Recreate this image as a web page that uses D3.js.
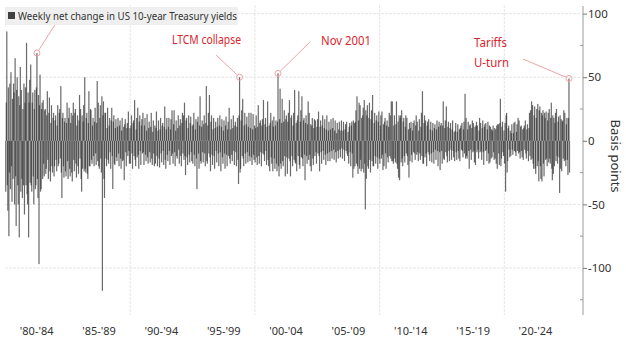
<!DOCTYPE html>
<html><head><meta charset="utf-8">
<script src="https://cdn.jsdelivr.net/npm/d3@7"></script>
<style>html,body{margin:0;padding:0;background:#fff;} svg{display:block;font-family:"Noto Sans","Open Sans",sans-serif;}</style>
</head><body><svg id="c" width="626" height="345"></svg>
<script>
const startYear = 1980;
// early-month week
const earlyMonthChange = [
/*1980*/ -40, 86, -55, -75, 45, 54, -48, -30, 38, 65, -67, 50,
/*1981*/ -50, -76, 58, 40, -45, -35, -58, 42, 77, -50, -76, 48,
/*1982*/ 60, -40, 38, -50, 40, -35, 69, -45, -97, 52, -38, 30,
/*1983*/ 32, -28, 25, -22, 39, -30, 34, -32, 28, -25, 22, -20,
/*1984*/ 20, -24, 28, -18, 25, 43, -45, 22, -29, 18, -28, 30,
/*1985*/ -30, 26, -28, 22, -32, 30, -24, 25, -29, 20, -26, 36,
/*1986*/ 25, -40, -22, 28, 50, -25, 22, -30, 39, -20, 24, -18,
/*1987*/ 18, -20, 26, -19, 47, 30, -22, 28, -25, -118, 31, -45,
/*1988*/ 22, -20, 26, -18, 18, -22, 26, -38, 20, -19, 17, -16,
/*1989*/ 18, -20, 16, -22, 18, -15, -31, 17, -20, 14, 23, -18,
/*1990*/ -18, 20, -22, 16, 32, -20, 18, 26, -22, 20, -19, 17,
/*1991*/ 22, -19, 18, -16, 21, -18, 15, -17, 22, -19, 16, -20,
/*1992*/ -18, 23, -20, 16, -21, 18, -17, 14, -19, 27, -22, 18,
/*1993*/ -16, 18, -19, 17, 24, -18, 24, -20, 16, -14, 20, -18,
/*1994*/ 17, -20, 22, 20, 30, -27, 18, -19, 20, -17, 19, -16,
/*1995*/ -18, 22, -20, 17, -38, 19, -22, 35, -18, 16, -17, 20,
/*1996*/ -20, 43, -18, 22, 36, -24, 20, -19, 18, -22, 15, -17,
/*1997*/ 18, -20, 20, -24, 17, -18, 16, -22, 19, -20, 15, 26,
/*1998*/ -18, 17, -16, 20, -19, 15, -20, 18, -34, 50, -22, 24,
/*1999*/ 33, -20, 22, -18, 19, -17, 22, -16, 22, -19, 21, -15,
/*2000*/ -17, 20, -19, 28, -18, 16, -20, 17, 32, -16, 18, -19,
/*2001*/ 31, -20, -24, 22, -18, -24, 19, -22, 16, -24, 53, -28,
/*2002*/ 41, -22, 33, -20, 24, -28, 20, -26, 22, 32, -28, 20,
/*2003*/ -20, 22, 40, -18, -24, 20, 39, -22, 24, 35, -20, 18,
/*2004*/ -31, 20, -18, 31, 22, -20, -24, 18, -19, 17, 16, -18,
/*2005*/ 17, 23, -24, 16, -18, 20, -15, 17, -19, 20, -16, 15,
/*2006*/ -16, 17, -14, 18, -15, 16, -17, 14, -14, 15, -13, 16,
/*2007*/ -14, 15, -16, 13, 15, -12, -18, 14, -20, 15, -29, -22,
/*2008*/ -20, 24, 35, -26, 30, 28, -24, -22, 26, 32, -54, -30,
/*2009*/ 28, -22, 30, -25, 24, 36, -20, 22, -18, 20, -22, 23,
/*2010*/ -18, 20, 23, -23, -20, 18, -22, 16, -17, 22, 20, 31,
/*2011*/ 31, -18, 20, -17, 31, -22, -29, -31, 20, 24, -20, 18,
/*2012*/ -17, 20, 18, -19, -29, -16, 15, -17, 14, 16, -15, 20,
/*2013*/ 15, -16, 17, -15, 22, 39, -18, 20, 16, -20, 15, 17,
/*2014*/ -16, 15, -17, 14, -18, 13, -15, 16, -20, 15, -23, 14,
/*2015*/ -18, 31, -15, 16, 27, -17, 15, -16, 14, -15, 16, -13,
/*2016*/ -16, 14, -15, 13, -14, -16, 12, 14, -13, 15, 37, 18,
/*2017*/ -14, 15, -22, 13, -15, 16, 14, -17, -19, 15, 12, -14,
/*2018*/ 18, 14, -15, 16, -19, 13, 14, -16, 15, -18, -17, -14,
/*2019*/ -13, 12, -15, -14, -18, -22, 13, -19, 33, -14, 15, -12,
/*2020*/ -18, -40, 22, -16, 12, -13, -12, 13, -11, 14, 15, -12,
/*2021*/ 13, 18, 16, -14, 12, -13, -15, 12, 16, -14, 13, -16,
/*2022*/ 22, 24, 31, 28, -22, 27, -26, 25, 29, -32, 27, -30,
/*2023*/ -32, 24, -28, 18, 23, -20, 22, 25, -18, 30, -31, -26,
/*2024*/ -20, 22, 25, -18, 19, -41, -22, -24, 16, 24, 22, -20,
/*2025*/ 18, -27, 49
];
// mid-month week
const midMonthChange = [
/*1980*/ 30, -35, 42, -25, -38, -20, 33, 45, -50, -28, 40, -35,
/*1981*/ 35, 28, -40, -30, 25, 45, 30, -35, -42, 38, 30, -33,
/*1982*/ -35, 30, -28, 25, -38, 42, -30, 36, 28, -40, 25, -30,
/*1983*/ -18, 24, -26, 20, -15, 22, -24, 14, -20, 18, -28, 16,
/*1984*/ -15, 12, -20, 22, -14, -25, 18, -20, 15, -24, 14, -16,
/*1985*/ 18, -22, 14, -25, 20, -15, 22, -18, 12, -20, 16, -14,
/*1986*/ -30, 20, 15, -24, -22, 18, -26, 14, -20, 25, -15, 12,
/*1987*/ -12, 15, -10, 14, -16, -20, 18, -14, 35, 20, -30, 22,
/*1988*/ -14, 10, -15, 12, -9, 16, -12, 15, -18, 10, -13, 11,
/*1989*/ -10, 12, -14, 8, -16, 11, 13, -9, 10, -12, -8, 10,
/*1990*/ 12, -10, 14, -12, -15, 9, -13, -11, 15, -8, 12, -10,
/*1991*/ -9, 12, -11, 8, -13, 10, -9, 11, -14, 7, -10, 12,
/*1992*/ 10, -12, 8, -14, 9, -10, 12, -8, 11, -15, 9, -11,
/*1993*/ 11, -8, 9, -12, -10, 13, -9, 8, -12, 10, -7, 12,
/*1994*/ -12, 14, -10, -15, -12, 16, -13, 10, -11, 14, -9, 12,
/*1995*/ 13, -11, 9, -14, 15, -10, 12, -16, 11, -9, 13, -10,
/*1996*/ 14, -16, 12, -10, -13, 15, -11, 9, -12, 10, -8, 11,
/*1997*/ -10, 12, -9, 11, -13, 8, -10, 12, -11, 9, -12, -14,
/*1998*/ 9, -11, 10, -8, 12, -9, 11, -15, 20, -25, 16, -12,
/*1999*/ -14, 12, -10, 13, -9, 11, -12, 10, -13, 9, -11, 12,
/*2000*/ 10, -13, 11, -12, 14, -9, 12, -10, -11, 13, -8, 11,
/*2001*/ -15, 12, 14, -13, 16, 11, -14, 12, -18, 15, -20, 17,
/*2002*/ -18, 14, -16, 15, -12, 17, -13, 15, -14, -16, 18, -12,
/*2003*/ 12, -15, -17, 14, 16, -12, -19, 15, -13, -14, 16, -11,
/*2004*/ 14, -12, 13, -15, -11, 13, 12, -14, 10, -12, -9, 11,
/*2005*/ -10, -12, 11, -9, 12, -8, 10, -11, 9, -10, 8, -9,
/*2006*/ 9, -8, 10, -7, 8, -9, 6, -8, 9, -7, 8, -6,
/*2007*/ 8, -7, 9, -8, -10, 7, 11, -9, 12, -10, 16, 14,
/*2008*/ 15, -18, -20, 16, -22, -15, 18, 20, -25, -18, 24, 20,
/*2009*/ -20, 18, -15, 17, -16, -20, 14, -12, 16, -13, 15, -14,
/*2010*/ 12, -14, -11, 13, 15, -10, 12, -13, 11, -12, -14, -16,
/*2011*/ -16, 12, -14, 13, -18, 15, 20, 18, -17, -14, 15, -12,
/*2012*/ 11, -10, -12, 9, 14, 10, -11, 8, -9, -10, 12, -11,
/*2013*/ -9, 8, -10, 11, -12, -18, 14, -13, -10, 12, -9, -11,
/*2014*/ 9, -10, 8, -9, 10, -7, 9, -8, 11, -9, 12, -8,
/*2015*/ 12, -14, 10, -9, -12, 11, -8, 10, -7, 9, -8, 7,
/*2016*/ 8, -9, 7, -8, 9, 10, -7, -8, 9, -10, -14, -12,
/*2017*/ 9, -8, 12, -7, 10, -9, -8, 11, 12, -9, -7, 8,
/*2018*/ -9, -8, 10, -9, 11, -8, -7, 9, -10, 12, 11, 9,
/*2019*/ 8, -9, 10, 9, 12, 13, -10, 14, -20, 11, -9, 8,
/*2020*/ 14, 20, -25, 10, -7, 8, 6, -7, 6, -8, -9, 7,
/*2021*/ -8, -10, -9, 11, -8, 9, 10, -7, -10, 9, -8, 10,
/*2022*/ -12, -15, -14, -18, 20, -22, 18, -20, -16, 24, -20, 22,
/*2023*/ 20, -18, 22, -15, -14, 16, -17, -14, 18, -22, 20, 18,
/*2024*/ 14, -16, -12, 15, -13, 20, 17, 15, -14, -16, -15, 13,
/*2025*/ -15, 18, -25
];
const yTicks = [100, 50, 0, -50, -100];
const yMinorTicks = [75, 25, -25, -75, -125];
const periodLabels = ["'80-'84", "'85-'89", "'90-'94", "'95-'99", "'00-'04", "'05-'09", "'10-'14", "'15-'19", "'20-'24"];
const periodStarts = [1980, 1985, 1990, 1995, 2000, 2005, 2010, 2015, 2020];
const gridYears = [1990, 2000, 2010, 2020];
const annotationLabels = [["LTCM collapse"], ["Nov 2001"], ["Tariffs", "U-turn"], [""]];
const annotationIndex = [225, 262, 542, 30];
const legendLabel = "Weekly net change in US 10-year Treasury yields";
const axisTitle = "Basis points";

const svg = d3.select("#c");
const x = d3.scaleLinear().domain([1980, 2026]).range([5.5, 579.1]);
const y = d3.scaleLinear().domain([-137, 106]).range([315, 6]);
const tEarly = i => startYear + (i + 0.25) / 12;
const tMid = i => startYear + (i + 0.75) / 12;

const bars = [];
earlyMonthChange.forEach((v, i) => bars.push({ t: tEarly(i), v }));
midMonthChange.forEach((v, i) => bars.push({ t: tMid(i), v }));

// gridlines
svg.append("g").selectAll("line").data(yTicks.filter(d => d !== 0)).join("line")
  .attr("x1", 5).attr("x2", 580).attr("y1", d => y(d)).attr("y2", d => y(d))
  .attr("stroke", "#e6e6e6").attr("stroke-dasharray", "3,1");
svg.append("g").selectAll("line").data(gridYears).join("line")
  .attr("x1", d => x(d)).attr("x2", d => x(d)).attr("y1", 5).attr("y2", 315)
  .attr("stroke", "#e6e6e6").attr("stroke-dasharray", "3,1");

// bars
svg.append("g").selectAll("rect").data(bars).join("rect")
  .attr("x", d => x(d.t) - 0.6)
  .attr("width", 1.2)
  .attr("y", d => Math.min(y(d.v), y(0)))
  .attr("height", d => Math.abs(y(d.v) - y(0)))
  .attr("fill", "#303030").attr("fill-opacity", 0.72);

// right axis
const ax = svg.append("g").attr("transform", "translate(583,0)")
  .call(d3.axisRight(y).tickValues(yTicks).tickSize(4).tickSizeOuter(0).tickPadding(1).tickFormat(d => d));
ax.select(".domain").attr("stroke", "#9a9a9a").attr("d", `M0,${y(106)}V${y(-137)}`);
ax.selectAll(".tick line").attr("stroke", "#777");
ax.selectAll(".tick text").attr("font-size", 11.5).attr("fill", "#333").attr("font-family", "Noto Sans, sans-serif");
svg.append("g").selectAll("line").data(yMinorTicks).join("line")
  .attr("x1", 580).attr("x2", 583).attr("y1", d => y(d)).attr("y2", d => y(d)).attr("stroke", "#999");
svg.append("text").attr("transform", `translate(611,${y(-12)}) rotate(90)`)
  .attr("text-anchor", "middle").attr("font-size", 13).attr("fill", "#333").text(axisTitle);

// x labels
svg.append("g").selectAll("text").data(periodLabels).join("text")
  .attr("x", (d, i) => x(periodStarts[i] + 2.5)).attr("y", 335)
  .attr("text-anchor", "middle").attr("font-size", 11).attr("fill", "#333").text(d => d);

// annotations
const pink = "#f2a3a8", red = "#d9262e";
const lineStarts = [[216, 55], [310, 42], [523, 59], [58, 20]];
annotationIndex.forEach((idx, k) => {
  const cx = x(tEarly(idx)), cy = y(earlyMonthChange[idx]);
  const [sx, sy] = lineStarts[k];
  const dx = cx - sx, dy = cy - sy, L = Math.hypot(dx, dy);
  svg.append("line").attr("x1", sx).attr("y1", sy)
    .attr("x2", cx - dx / L * 3).attr("y2", cy - dy / L * 3)
    .attr("stroke", pink).attr("stroke-width", 1);
  svg.append("circle").attr("cx", cx).attr("cy", cy).attr("r", 3)
    .attr("fill", "none").attr("stroke", pink).attr("stroke-width", 1);
});
const textPos = [[172, 44], [321, 45], [474, 47]];
const lineLens = [[69], [50], [33, 35]];
textPos.forEach(([tx, ty], k) => {
  annotationLabels[k].forEach((s, j) => {
    svg.append("text").attr("x", tx).attr("y", ty + j * 20).attr("font-size", 12.5)
      .attr("textLength", lineLens[k][j]).attr("lengthAdjust", "spacingAndGlyphs")
      .attr("fill", red).text(s);
  });
});

// legend
svg.append("rect").attr("x", 5).attr("y", 7).attr("width", 233).attr("height", 18)
  .attr("fill", "#eeeeee").attr("fill-opacity", 0.95);
svg.append("rect").attr("x", 8).attr("y", 12).attr("width", 7).attr("height", 7).attr("fill", "#404040");
svg.append("text").attr("x", 18).attr("y", 20).attr("font-size", 10).attr("fill", "#333")
  .attr("textLength", 219).attr("lengthAdjust", "spacingAndGlyphs").text(legendLabel);
</script></body></html>
